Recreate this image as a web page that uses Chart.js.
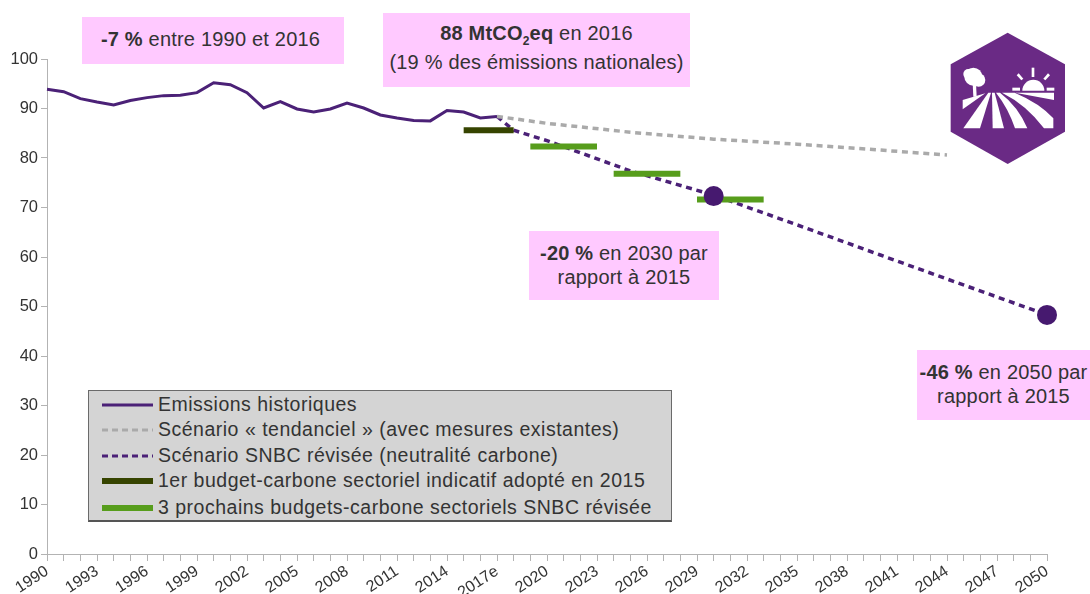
<!DOCTYPE html>
<html lang="fr">
<head>
<meta charset="utf-8">
<title>Emissions agriculture</title>
<script src="https://cdn.jsdelivr.net/npm/chart.js"></script>
<style>
    body { margin: 0; background: #fff; font-family: "Liberation Sans", sans-serif; color: #333; }
    #wrap { position: relative; width: 1090px; height: 594px; overflow: hidden; }
    canvas { position: absolute; left: 0; top: 0; }
    .note { position: absolute; background: #ffc9ff; font-size: 20px; letter-spacing: 0.2px; line-height: 24px; text-align: center; white-space: nowrap; box-sizing: border-box; }
    .note sub { font-size: 12px; line-height: 0; }
    #legend { position: absolute; left: 88px; top: 390px; width: 584px; height: 132px; box-sizing: border-box;
        background: #d4d4d4; border: 1px solid #6a6a6a; border-bottom: 2px solid #555; font-size: 19.5px; letter-spacing: 0.5px; }
    .row { position: absolute; left: 13px; height: 25px; line-height: 25px; white-space: nowrap; }
    .row svg { position: absolute; left: 0; top: 0; }
    .row span { position: absolute; left: 56px; top: 0; }
    #icon { position: absolute; left: 920px; top: 20px; }
</style>
</head>
<body>
<div id="wrap">
    <canvas id="chart" width="1090" height="594"></canvas>
    <div class="note" style="left:82px;top:17px;width:262px;height:47px;line-height:45px;padding-right:5px"><b>-7 %</b> entre 1990 et 2016</div>
    <div class="note" style="left:383px;top:13px;width:307px;height:74px;line-height:29px;padding-top:6px"><b>88 MtCO<sub>2</sub>eq</b> en 2016<br>(19 % des émissions nationales)</div>
    <div class="note" style="left:529px;top:231px;width:190px;height:69px;padding-top:10px"><b>-20 %</b> en 2030 par<br>rapport à 2015</div>
    <div class="note" style="left:917px;top:350px;width:173px;height:70px;padding-top:10px"><b>-46 %</b> en 2050 par<br>rapport à 2015</div>
    <div id="legend"></div>
    <svg id="icon" width="170" height="160" viewBox="0 0 510 480">
        <polygon points="263,38 435,133 435,335 263,432 92,335 92,133" fill="#6a2a85"/>
        <g fill="#fff">
            <circle cx="160" cy="170" r="27"/>
            <circle cx="145" cy="162" r="15"/>
            <circle cx="176" cy="180" r="20"/>
            <polygon points="158,190 168,190 170,230 160,230"/>
            <polygon points="128,240 196,220 128,268"/>
            <polygon points="205,218 213,218 180,325 130,325"/>
            <polygon points="216,218 224,218 252,325 218,325"/>
            <path d="M228,218 L240,218 Q295,260 322,325 L285,325 Q265,265 228,218 Z"/>
            <path d="M246,218 L284,218 Q360,250 400,295 L400,325 L372,325 Q320,255 246,218 Z"/>
            <polygon points="285,218 402,218 402,240"/>
            <path d="M307,212 A33,33 0 0 1 373,212 Z"/>
            <rect x="277" y="203" width="23" height="9"/>
            <rect x="380" y="203" width="23" height="9"/>
            <rect x="335" y="143" width="8" height="28"/>
            <polygon points="290,166 296,160 310,176 304,181"/>
            <polygon points="384,160 390,166 376,181 370,176"/>
        </g>
    </svg>
</div>
<script>
const years = ['1990','1991','1992','1993','1994','1995','1996','1997','1998','1999',
    '2000','2001','2002','2003','2004','2005','2006','2007','2008','2009',
    '2010','2011','2012','2013','2014','2015','2016','2017e','2018','2019',
    '2020','2021','2022','2023','2024','2025','2026','2027','2028','2029',
    '2030','2031','2032','2033','2034','2035','2036','2037','2038','2039',
    '2040','2041','2042','2043','2044','2045','2046','2047','2048','2049','2050'];

const historicYears = years.slice(0, 28);
const historicValues = [93.9, 93.4, 92.0, 91.3, 90.7, 91.6, 92.2, 92.6, 92.7, 93.2,
    95.2, 94.8, 93.2, 90.1, 91.4, 89.9, 89.3, 89.9, 91.1, 90.1,
    88.7, 88.1, 87.6, 87.5, 89.6, 89.3, 88.1, 88.4];

const trendYears = ['2017e', '2020', '2025', '2030', '2035', '2040', '2044'];
const trendValues = [88.4, 87.0, 85.2, 83.8, 82.8, 81.6, 80.6];

const snbcYears = ['2017e', '2018', '2020', '2025', '2030', '2035', '2040', '2050'];
const snbcValues = [88.4, 85.6, 83.5, 77.4, 72.5, 66.5, 60.4, 48.3];

const markerYears = ['2030', '2050'];
const markerValues = [72.3, 48.3];

const firstBudgetYears = ['2015', '2018'];
const firstBudgetValues = [85.6, 85.6];

const budget2Years = ['2019', '2023'];
const budget2Values = [82.3, 82.3];
const budget3Years = ['2024', '2028'];
const budget3Values = [76.8, 76.8];
const budget4Years = ['2029', '2033'];
const budget4Values = [71.6, 71.6];

const legendNames = ['Emissions historiques',
    'Scénario « tendanciel » (avec mesures existantes)',
    'Scénario SNBC révisée (neutralité carbone)',
    '1er budget-carbone sectoriel indicatif adopté en 2015',
    '3 prochains budgets-carbone sectoriels SNBC révisée'];

const purple = '#4b2177';
const grey = '#aaaaaa';
const darkGreen = '#364400';
const green = '#579d1c';
const axisColor = '#b3b3b3';

function pairs(xs, ys) {
    return xs.map((x, i) => ({ x: x, y: ys[i] }));
}

function budget(label, xs, ys, color) {
    return { label: label, data: pairs(xs, ys), borderColor: color, borderWidth: 6, pointRadius: 0, borderCapStyle: 'butt', order: 2 };
}

new Chart(document.getElementById('chart').getContext('2d'), {
    type: 'line',
    data: {
        labels: years,
        datasets: [
            { label: legendNames[0], data: pairs(historicYears, historicValues), borderColor: purple, borderWidth: 3, pointRadius: 0, tension: 0, order: 4 },
            { label: legendNames[1], data: pairs(trendYears, trendValues), borderColor: grey, borderWidth: 3.5, borderDash: [6, 4.7], pointRadius: 0, order: 3 },
            { label: legendNames[2], data: pairs(snbcYears, snbcValues), borderColor: purple, borderWidth: 3.5, borderDash: [6, 4.7], pointRadius: 0, order: 3 },
            budget(legendNames[3], firstBudgetYears, firstBudgetValues, darkGreen),
            budget(legendNames[4], budget2Years, budget2Values, green),
            budget(legendNames[4], budget3Years, budget3Values, green),
            budget(legendNames[4], budget4Years, budget4Values, green),
            { label: 'Objectifs', data: pairs(markerYears, markerValues), showLine: false, pointRadius: 10, pointBackgroundColor: '#46196f', pointBorderWidth: 0, order: 1 }
        ]
    },
    options: {
        responsive: false,
        animation: false,
        layout: { padding: { top: 59, right: 43, left: 0, bottom: 0 } },
        plugins: { legend: { display: false }, tooltip: { enabled: false } },
        scales: {
            x: {
                type: 'category',
                offset: false,
                afterFit: scale => { scale.height = 40; },
                border: { color: axisColor, width: 1 },
                grid: { drawOnChartArea: false, color: axisColor, tickLength: 7 },
                ticks: {
                    autoSkip: false,
                    minRotation: 33,
                    maxRotation: 33,
                    padding: 1,
                    color: '#333',
                    font: { family: 'Liberation Sans', size: 16 },
                    callback: function (value, index) {
                        return index % 3 === 0 ? this.getLabelForValue(value) : '';
                    }
                }
            },
            y: {
                min: 0,
                max: 100,
                afterFit: scale => { scale.width = 47; },
                border: { color: axisColor, width: 1 },
                grid: { drawOnChartArea: false, color: axisColor, tickLength: 6 },
                ticks: { stepSize: 10, padding: 3, color: '#333', font: { family: 'Liberation Sans', size: 16.5 } }
            }
        }
    }
});

// legend box, same names and colours as the datasets
const legendStyles = [
    { color: purple, width: 3, dash: '' },
    { color: grey, width: 3, dash: '6 4' },
    { color: purple, width: 3, dash: '6 4' },
    { color: darkGreen, width: 6, dash: '' },
    { color: green, width: 6, dash: '' }
];
const rowTops = [1, 26, 52, 77, 104];
const box = document.getElementById('legend');
legendNames.forEach((name, i) => {
    const s = legendStyles[i];
    const row = document.createElement('div');
    row.className = 'row';
    row.style.top = rowTops[i] + 'px';
    row.innerHTML = '<svg width="52" height="25"><line x1="0" y1="13" x2="51" y2="13" stroke="' + s.color +
        '" stroke-width="' + s.width + '" stroke-dasharray="' + s.dash + '"/></svg><span>' + name + '</span>';
    box.appendChild(row);
});
</script>
</body>
</html>
